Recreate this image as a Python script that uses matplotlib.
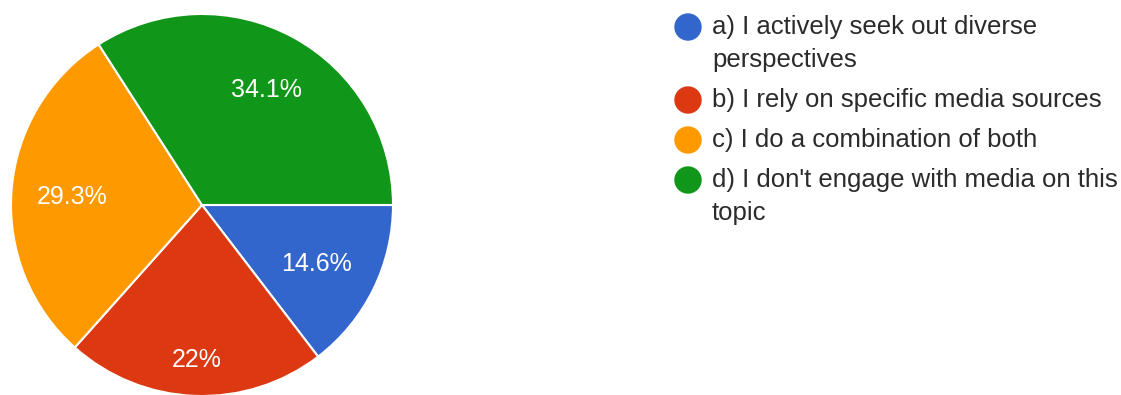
import matplotlib
matplotlib.use("Agg")
import matplotlib.pyplot as plt
from matplotlib.patches import Circle
import numpy as np

# survey answers and share of responses (%)
labels = [
    "a) I actively seek out diverse\nperspectives",
    "b) I rely on specific media sources",
    "c) I do a combination of both",
    "d) I don't engage with media on this\ntopic",
]
shares = [14.6, 22.0, 29.3, 34.1]
pct_text = ["14.6%", "22%", "29.3%", "34.1%"]
colors = ["#3366cc", "#dc3912", "#ff9900", "#109618"]

plt.rcParams["font.family"] = ["Liberation Sans", "DejaVu Sans"]

W, H = 1121, 395
fig = plt.figure(figsize=(W / 100, H / 100), dpi=100)

# pie axes: centre (202, 205) px, radius 191 px
cx, cy, r = 202, 205, 191
ax = fig.add_axes([(cx - r) / W, (H - cy - r) / H, 2 * r / W, 2 * r / H])
wedges, _ = ax.pie(shares, colors=colors, startangle=0, counterclock=False,
                   radius=1, wedgeprops=dict(edgecolor="white", linewidth=1.5))
ax.set_xlim(-1, 1)
ax.set_ylim(-1, 1)
ax.set_aspect("equal")
ax.axis("off")

# percentage labels inside the slices
dists = [0.67, 0.80, 0.68, 0.70]
for w, t, d in zip(wedges, pct_text, dists):
    ang = np.deg2rad((w.theta1 + w.theta2) / 2)
    ax.text(d * np.cos(ang), d * np.sin(ang) - 0.01, t, color="white",
            fontsize=18, ha="center", va="center")

# legend drawn in pixel coordinates
lax = fig.add_axes([0, 0, 1, 1])
lax.set_xlim(0, W)
lax.set_ylim(H, 0)
lax.axis("off")
lax.patch.set_alpha(0)

y = 27
for lab, c in zip(labels, colors):
    lax.add_patch(Circle((688, y), 13, color=c))
    lines = lab.split("\n")
    for i, ln in enumerate(lines):
        lax.text(712, y + i * 33, ln, fontsize=18.5, color="#2b2b2b",
                 ha="left", va="center")
    y += 40 + 33 * (len(lines) - 1)

fig.savefig("out.png", dpi=100)
